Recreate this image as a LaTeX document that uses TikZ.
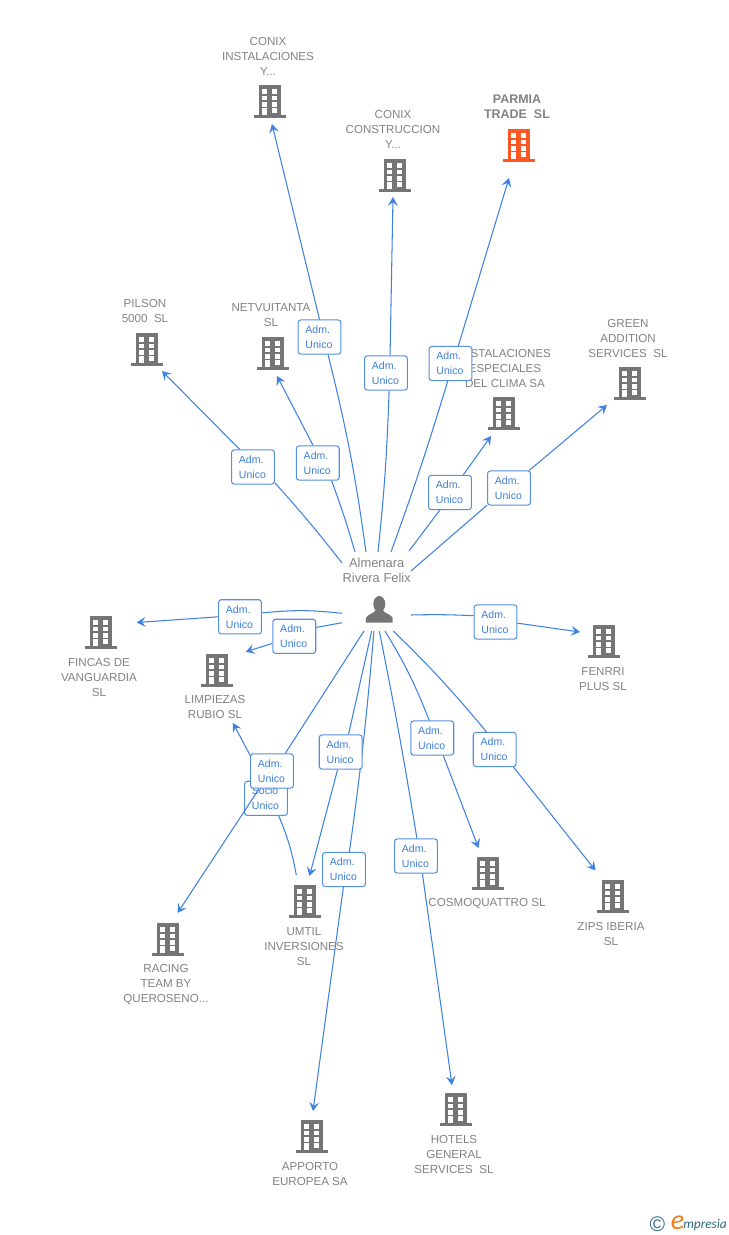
\documentclass[tikz,border=0pt]{standalone}
\usepackage{fontspec}
\setmainfont{Liberation Sans}
\newfontfamily\logofont{Carlito}
\usetikzlibrary{arrows.meta,positioning}
\definecolor{linkblue}{RGB}{62,129,226}
\definecolor{boxblue}{RGB}{84,144,226}
\definecolor{textblue}{RGB}{60,125,216}
\definecolor{labelgray}{RGB}{130,130,130}
\definecolor{iconbray}{RGB}{117,117,117}
\definecolor{parmiared}{RGB}{255,87,34}
\definecolor{logoteal}{RGB}{45,105,125}
\definecolor{logoorange}{RGB}{240,125,30}
\pgfdeclarelayer{under}
\pgfdeclarelayer{links}
\pgfsetlayers{under,links,main}
\tikzset{
  lbl/.style={text=labelgray,align=center,inner sep=0pt,font=\fontsize{6.6}{8.5}\selectfont},
  hubname/.style={text=labelgray,align=center,inner sep=0pt,font=\fontsize{7.35}{8.5}\selectfont},
  admbox/.style={draw=boxblue,fill=white,line width=0.6pt,rounded corners=1.5pt,
    minimum width=24.4pt,minimum height=19.4pt,inner xsep=4.2pt,inner ysep=0pt,
    text width=16pt,align=left,text=textblue,font=\fontsize{6}{8.5}\selectfont},
  lnk/.style={draw=linkblue,line width=0.6pt},
  tip/.style={-{Stealth[length=5pt,width=5.6pt,inset=2pt]}},
  pics/building/.style={code={
    \fill[#1] (-11,-16) rectangle (11,14);
    \fill[#1] (-16,14) rectangle (16,17);
    \foreach \wy in {-11.7,-5.3,1.3} {
      \fill[white] (-7.7,\wy) rectangle ++(5,4.4);
      \fill[white] (2.3,\wy) rectangle ++(5,4.4);
    }
    \fill[white] (-7.7,7.3) rectangle (-2.7,14);
    \fill[white] (2.3,7.3) rectangle (7.3,11.7);
  }}
}
\begin{document}
\begin{tikzpicture}[x=0.02cm,y=-0.02cm]
\useasboundingbox (0,0) rectangle (728,1235);

% buildings
\foreach \nm/\px/\py in {iinst/270/101,iconstr/395/175,ipilson/147/349,inetv/273/353,
    iclima/504/413,igreen/630/383,ifincas/101/632,ilimp/217/670,ifenrri/604/641,
    iracing/168/939,iumtil/305/901,icosmo/488/873,izips/613/896,iapporto/312/1136,ihotels/456/1109}
  \pic (\nm) at (\px,\py) {building=iconbray};
\pic (iparmia) at (519,145) {building=parmiared};

% person
\fill[iconbray] (379.3,604) ellipse (6 and 8);
\fill[iconbray] (365.7,622.7) -- (366,618) .. controls (367,614.5) and (373,614) .. (376,610)
  -- (382.5,610) .. controls (385.5,614) and (391.5,614.5) .. (392.7,618) -- (392.7,622.7) -- cycle;
\node[hubname] (hub) at (376.7,570) {Almenara\\Rivera Felix};

% labels
\node[lbl] (lconixinst) at (268,56.7) {CONIX\\INSTALACIONES\\Y...};
\node[lbl] (lconstr) at (393,129.7) {CONIX\\CONSTRUCCION\\Y...};
\node[lbl,font=\fontsize{7.1}{8.5}\selectfont\bfseries] (lparmia) at (517,107.2) {PARMIA\\TRADE\ \ SL};
\node[lbl] (lpilson) at (145,311.2) {PILSON\\5000\ \ SL};
\node[lbl] (lnetv) at (271,315.2) {NETVUITANTA\\SL};
\node[lbl] (lclima) at (505,368.7) {INSTALACIONES\\ESPECIALES\\DEL CLIMA SA};
\node[lbl] (lgreen) at (628,338.7) {GREEN\\ADDITION\\SERVICES\ \ SL};
\node[lbl] (lfincas) at (99,677.7) {FINCAS DE\\VANGUARDIA\\SL};
\node[lbl] (llimp) at (215,707.2) {LIMPIEZAS\\RUBIO SL};
\node[lbl] (lfenrri) at (603,679.2) {FENRRI\\PLUS SL};
\node[lbl] (lracing) at (166,984.7) {RACING\\TEAM BY\\QUEROSENO...};
\node[lbl] (lumtil) at (304,946.7) {UMTIL\\INVERSIONES\\SL};
\node[lbl] (lcosmo) at (487,903.7) {COSMOQUATTRO SL};
\node[lbl] (lzips) at (611,934.2) {ZIPS IBERIA\\SL};
\node[lbl] (lapporto) at (310,1174.2) {APPORTO\\EUROPEA SA};
\node[lbl] (lhotels) at (454,1154.7) {HOTELS\\GENERAL\\SERVICES\ \ SL};

% boxes
\foreach \nm/\px/\py in {binst/319.5/337,bconstr/386/373,bparmia/450.5/363.5,bpilson/253/467,
    bnetv/317.8/463,bclima/450/492.5,bgreen/509/488,bfincas/240/616.8,blimp/294.3/636.3,
    bfenrri/495.5/622,bracing/272/771,bumtil/340.7/752,bapporto/344/869.5,
    bhotels/416/856,bcosmo/432.3/738,bzips/494.7/749.5}
  \node[admbox] (\nm) at (\px,\py) {Adm.\\Unico};
\begin{pgfonlayer}{under}
  \node[admbox] (bsocio) at (266,798.3) {Socio\\Unico};
\end{pgfonlayer}

% link ends
\foreach \nm/\ax/\ay/\cx/\cy in {inst/366/552/272/124,constr/378/552/393/197,parmia/391/552/509/178,
    pilson/342/563/162/371,netv/355/552/277/376,clima/409/551/491/436,green/411/571/607/405,
    fincas/342/613.3/136.7/622.5,limp/342/622.7/245.7/651.7,fenrri/411/615/580/632,
    racing/364/631/177.5/913,umtil/371.7/631/309.5/876,apporto/374/631/313/1111,
    hotels/379.3/631/452/1085,cosmo/385/631/478.5/848,zips/393.3/631/595.5/870.5,
    socio/296.3/875/233/723}
{
  \coordinate (s\nm) at (\ax,\ay);
  \coordinate (t\nm) at (\cx,\cy);
}

% links: name / anchor towards the person / anchor towards the company / bend
\begin{pgfonlayer}{links}
\foreach \nm/\ain/\aout/\bnd in {inst/-64/90/-3,constr/-80/77/-2,parmia/-99/66/-1.5,
    pilson/-36/127/-2,netv/-52/105/-2,clima/-120/53/0,green/-142/41/0,
    fincas/10/180/-6,limp/22/198/0,fenrri/164/-3/2,racing/53/234/0,umtil/66/-100/0,
    apporto/73/-92/1.5,hotels/87/-70/1,cosmo/100/-58/5,zips/115/-43/3,socio/-54/98/-6}
{
  \draw[lnk] (s\nm) to[bend left=\bnd] (b\nm.\ain);
  \draw[lnk,tip] (b\nm.\aout) -- (t\nm);
}
\end{pgfonlayer}

% logo
\node[inner sep=0pt,text=logoteal,font=\fontsize{12}{12}\selectfont] (logoc) at (657.5,1224.5) {©};
\node[inner sep=0pt,anchor=base,text=logoorange,font=\logofont\itshape\fontsize{16}{16}\selectfont] (logoe) at (677.5,1229) {e};
\node[inner sep=0pt,anchor=base west,text=logoteal,font=\logofont\itshape\fontsize{7.6}{9}\selectfont] (logot) at (683,1228) {mpresia};
\end{tikzpicture}
\end{document}
